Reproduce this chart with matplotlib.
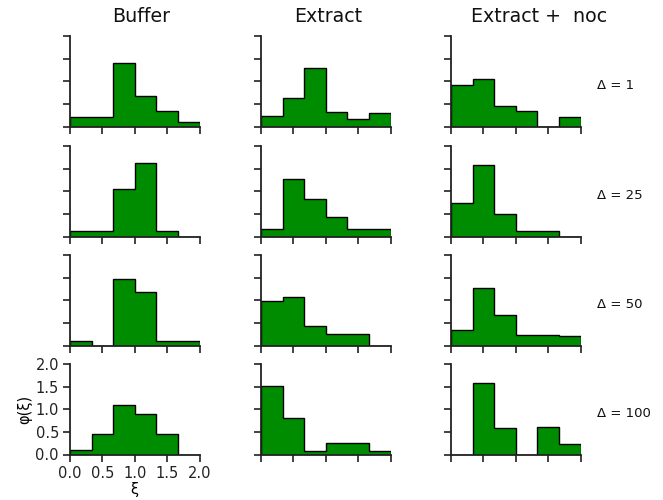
import numpy as np
import matplotlib
matplotlib.use("Agg")
import matplotlib.pyplot as plt

# bin edges (width 1/3) shared by every panel
edges = np.linspace(0, 2, 7)

conditions = ["Buffer", "Extract", "Extract +  noc"]
deltas = ["1", "25", "50", "100"]

# density values, one list per (condition, delta)
buffer_vals = [
    [0.22, 0.22, 1.41, 0.67, 0.34, 0.10],
    [0.12, 0.12, 1.05, 1.63, 0.12, 0.00],
    [0.11, 0.00, 1.47, 1.19, 0.10, 0.10],
    [0.11, 0.46, 1.09, 0.90, 0.46, 0.00],
]
extract_vals = [
    [0.23, 0.63, 1.30, 0.31, 0.16, 0.30],
    [0.17, 1.26, 0.82, 0.43, 0.17, 0.17],
    [0.98, 1.07, 0.43, 0.26, 0.26, 0.00],
    [1.51, 0.80, 0.08, 0.26, 0.26, 0.08],
]
noc_vals = [
    [0.92, 1.04, 0.45, 0.35, 0.00, 0.22],
    [0.74, 1.58, 0.49, 0.13, 0.13, 0.00],
    [0.35, 1.28, 0.68, 0.23, 0.23, 0.21],
    [0.00, 1.58, 0.58, 0.00, 0.60, 0.24],
]
all_vals = [buffer_vals, extract_vals, noc_vals]

green = "#008c00"
W, H = 663, 500
col_left = [70, 261, 451]
row_top = [36, 146, 255, 364]
pw, ph = 129.5, 90.5

fig = plt.figure(figsize=(W / 100, H / 100), dpi=100)

for c in range(3):
    for r in range(4):
        ax = fig.add_axes([col_left[c] / W, (H - row_top[r] - ph) / H, pw / W, ph / H])
        ax.stairs(all_vals[c][r], edges, fill=True, facecolor=green,
                  edgecolor="black", linewidth=1.0)
        ax.set_xlim(0, 2)
        ax.set_ylim(0, 2)
        ax.set_xticks([0, 0.5, 1.0, 1.5, 2.0])
        ax.set_yticks([0, 0.5, 1.0, 1.5, 2.0])
        for s in ["top", "right"]:
            ax.spines[s].set_visible(False)
        for s in ["left", "bottom"]:
            ax.spines[s].set_linewidth(1.3)
            ax.spines[s].set_color("#222222")
        ax.tick_params(direction="out", length=5, width=1.2, colors="#222222",
                       labelsize=10.5, labelcolor="#222222", pad=3)
        if c == 0 and r == 3:
            ax.set_xticklabels(["0.0", "0.5", "1.0", "1.5", "2.0"])
            ax.set_yticklabels(["0.0", "0.5", "1.0", "1.5", "2.0"])
            ax.set_xlabel("ξ", fontsize=10.5, labelpad=1)
            ax.set_ylabel("φ(ξ)", fontsize=10.5, labelpad=2)
        else:
            ax.set_xticklabels([])
            ax.set_yticklabels([])

# column titles
title_x = [141, 328, 539]
for c in range(3):
    fig.text(title_x[c] / W, 1 - 16 / H, conditions[c], ha="center", va="center",
             fontsize=13.7, color="#111111")

# row labels
for r in range(4):
    fig.text(597 / W, (H - row_top[r] - ph / 2 - 4) / H, "Δ = " + deltas[r],
             ha="left", va="center", fontsize=9.5, color="#111111")

fig.savefig("out.png", dpi=100)
